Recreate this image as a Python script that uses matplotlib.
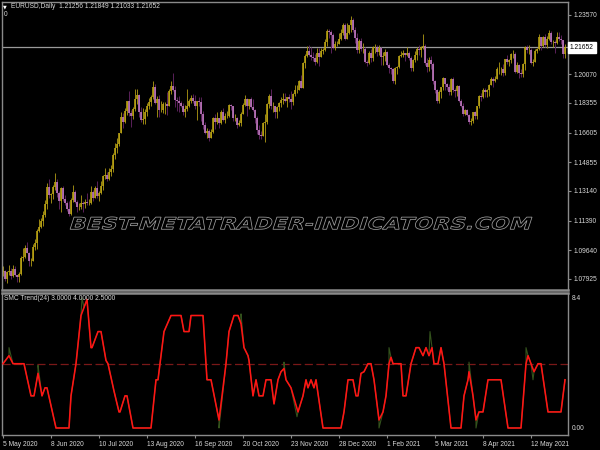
import numpy as np
import pandas as pd
import matplotlib
matplotlib.use("Agg")
import matplotlib.pyplot as plt
from matplotlib.transforms import Affine2D, blended_transform_factory
from matplotlib.textpath import TextPath
from matplotlib.patches import PathPatch
from matplotlib.font_manager import FontProperties

# ---------------- data ----------------
SYMBOL = "EURUSD,Daily"
FIRST_OPEN = 1.0835
HOLIDAYS = ["2020-12-25", "2021-01-01"]

CLOSE = [
 1.0838,1.0795,1.0833,1.0840,
 1.0808,1.0850,1.0817,1.0806,1.0820,
 1.0915,1.0925,1.0975,1.0948,1.0900,
 1.0900,1.0980,1.1005,1.1076,1.1100,
 1.1135,1.1170,1.1235,1.1336,1.1290,
 1.1295,1.1340,1.1370,1.1300,1.1255,
 1.1330,1.1265,1.1245,1.1205,1.1175,
 1.1260,1.1310,1.1250,1.1220,1.1220,
 1.1245,1.1235,1.1250,1.1240,1.1245,
 1.1310,1.1275,1.1330,1.1285,1.1300,
 1.1345,1.1400,1.1410,1.1385,1.1428,
 1.1445,1.1525,1.1570,1.1595,1.1655,
 1.1755,1.1720,1.1790,1.1845,1.1775,
 1.1760,1.1800,1.1860,1.1880,1.1785,
 1.1735,1.1740,1.1785,1.1815,1.1840,
 1.1870,1.1930,1.1835,1.1860,1.1795,
 1.1795,1.1830,1.1830,1.1820,1.1905,
 1.1935,1.1910,1.1855,1.1850,1.1835,
 1.1815,1.1780,1.1800,1.1815,1.1845,
 1.1865,1.1845,1.1815,1.1850,1.1840,
 1.1770,1.1705,1.1660,1.1670,1.1630,
 1.1665,1.1745,1.1720,1.1745,1.1715,
 1.1785,1.1735,1.1760,1.1760,1.1825,
 1.1815,1.1745,1.1745,1.1705,1.1715,
 1.1770,1.1825,1.1860,1.1815,1.1860,
 1.1810,1.1795,1.1745,1.1675,1.1645,
 1.1640,1.1715,1.1720,1.1830,1.1875,
 1.1815,1.1815,1.1780,1.1810,1.1835,
 1.1855,1.1860,1.1850,1.1870,1.1860,
 1.1840,1.1890,1.1915,1.1915,1.1965,
 1.1925,1.2070,1.2115,1.2145,1.2120,
 1.2110,1.2105,1.2080,1.2130,1.2110,
 1.2145,1.2150,1.2195,1.2265,1.2255,
 1.2240,1.2160,1.2185,1.2185,
 1.2215,1.2250,1.2295,1.2215,
 1.2250,1.2295,1.2325,1.2270,1.2220,
 1.2150,1.2205,1.2155,1.2155,1.2080,
 1.2075,1.2130,1.2105,1.2165,1.2170,
 1.2140,1.2160,1.2110,1.2115,1.2135,
 1.2060,1.2040,1.2035,1.1965,1.2045,
 1.2050,1.2115,1.2120,1.2130,1.2120,
 1.2130,1.2105,1.2040,1.2090,1.2120,
 1.2155,1.2150,1.2165,1.2175,1.2075,
 1.2050,1.2090,1.2065,1.1965,1.1915,
 1.1845,1.1900,1.1930,1.1985,1.1950,
 1.1930,1.1900,1.1975,1.1915,1.1905,
 1.1935,1.1850,1.1815,1.1770,1.1795,
 1.1765,1.1720,1.1730,1.1780,1.1760,
 1.1815,1.1875,1.1870,1.1915,1.1900,
 1.1910,1.1945,1.1975,1.1965,1.1980,
 1.2035,1.2035,1.2035,1.2015,1.2095,
 1.2080,1.2090,1.2125,1.2125,1.2020,
 1.2060,1.2015,1.2005,1.2065,1.2165,
 1.2150,1.2150,1.2075,1.2080,1.2145,
 1.2155,1.2225,1.2175,1.2225,1.2180,
 1.2215,1.2250,1.2195,1.2195,1.2190,
 1.2225,1.2215,1.2210,1.21256,1.21652]

HIGH = [
 1.0870,1.0845,1.0840,1.0877,
 1.0855,1.0876,1.0872,1.0815,1.0835,
 1.0926,1.0976,1.0995,1.1009,1.0950,
 1.0919,1.0997,1.1030,1.1090,1.1146,
 1.1153,1.1197,1.1258,1.1361,1.1384,
 1.1304,1.1349,1.1422,1.1386,1.1314,
 1.1336,1.1346,1.1290,1.1257,1.1256,
 1.1272,1.1349,1.1320,1.1263,1.1245,
 1.1288,1.1255,1.1268,1.1303,1.1268,
 1.1346,1.1320,1.1345,1.1371,1.1316,
 1.1375,1.1410,1.1452,1.1427,1.1450,
 1.1468,1.1540,1.1601,1.1627,1.1660,
 1.1781,1.1776,1.1805,1.1848,1.1908,
 1.1796,1.1811,1.1916,1.1916,1.1887,
 1.1810,1.1806,1.1800,1.1835,1.1865,
 1.1882,1.1966,1.1949,1.1877,1.1883,
 1.1850,1.1844,1.1844,1.1900,1.1920,
 1.1966,1.2011,1.1937,1.1873,1.1877,
 1.1846,1.1838,1.1826,1.1917,1.1860,
 1.1882,1.1887,1.1882,1.1850,1.1872,
 1.1872,1.1787,1.1721,1.1687,1.1680,
 1.1681,1.1750,1.1768,1.1780,1.1748,
 1.1793,1.1805,1.1777,1.1786,1.1831,
 1.1828,1.1817,1.1769,1.1750,1.1737,
 1.1784,1.1838,1.1880,1.1868,1.1860,
 1.1870,1.1860,1.1798,1.1761,1.1706,
 1.1669,1.1721,1.1769,1.1838,1.1891,
 1.1920,1.1840,1.1820,1.1815,1.1840,
 1.1870,1.1893,1.1892,1.1870,1.1890,
 1.1905,1.1895,1.1942,1.1940,1.1970,
 1.2004,1.2077,1.2124,1.2176,1.2178,
 1.2167,1.2140,1.2128,1.2162,1.2160,
 1.2163,1.2160,1.2212,1.2273,1.2272,
 1.2267,1.2250,1.2201,1.2205,
 1.2251,1.2276,1.2310,1.2310,
 1.2310,1.2300,1.2349,1.2340,1.2288,
 1.2251,1.2217,1.2223,1.2190,1.2168,
 1.2091,1.2144,1.2153,1.2172,1.2185,
 1.2180,1.2177,1.2165,1.2137,1.2156,
 1.2145,1.2075,1.2050,1.2040,1.2051,
 1.2055,1.2121,1.2145,1.2150,1.2132,
 1.2169,1.2143,1.2115,1.2094,1.2143,
 1.2169,1.2180,1.2175,1.2243,1.2184,
 1.2105,1.2108,1.2113,1.2076,1.1973,
 1.1918,1.1910,1.1929,1.1990,1.1975,
 1.1955,1.1951,1.1985,1.1990,1.1925,
 1.1942,1.1945,1.1860,1.1837,1.1800,
 1.1797,1.1772,1.1747,1.1785,1.1790,
 1.1820,1.1881,1.1893,1.1927,1.1925,
 1.1920,1.1950,1.1990,1.1989,1.1994,
 1.2048,1.2080,1.2048,1.2069,1.2099,
 1.2117,1.2098,1.2130,1.2150,1.2138,
 1.2076,1.2068,1.2035,1.2070,1.2172,
 1.2182,1.2182,1.2161,1.2097,1.2153,
 1.2164,1.2245,1.2228,1.2230,1.2243,
 1.2230,1.2266,1.2262,1.2210,1.2210,
 1.2254,1.2254,1.2237,1.2198,1.21849]

LOW = [
 1.0812,1.0782,1.0766,1.0817,
 1.0795,1.0805,1.0808,1.0775,1.0773,
 1.0816,1.0900,1.0915,1.0945,1.0871,
 1.0871,1.0897,1.0962,1.0970,1.1071,
 1.1095,1.1109,1.1160,1.1209,1.1273,
 1.1242,1.1266,1.1317,1.1280,1.1206,
 1.1188,1.1253,1.1233,1.1198,1.1168,
 1.1172,1.1250,1.1240,1.1188,1.1200,
 1.1210,1.1191,1.1215,1.1231,1.1229,
 1.1239,1.1253,1.1271,1.1275,1.1254,
 1.1295,1.1317,1.1386,1.1371,1.1380,
 1.1403,1.1424,1.1506,1.1540,1.1580,
 1.1655,1.1690,1.1717,1.1762,1.1757,
 1.1696,1.1739,1.1791,1.1829,1.1754,
 1.1720,1.1711,1.1710,1.1761,1.1797,
 1.1815,1.1860,1.1828,1.1754,1.1753,
 1.1780,1.1775,1.1770,1.1763,1.1818,
 1.1890,1.1905,1.1812,1.1789,1.1780,
 1.1810,1.1765,1.1753,1.1790,1.1811,
 1.1836,1.1835,1.1802,1.1737,1.1817,
 1.1728,1.1683,1.1651,1.1627,1.1612,
 1.1630,1.1660,1.1683,1.1710,1.1688,
 1.1709,1.1730,1.1717,1.1747,1.1752,
 1.1795,1.1731,1.1728,1.1688,1.1702,
 1.1702,1.1768,1.1816,1.1759,1.1798,
 1.1803,1.1790,1.1718,1.1650,1.1622,
 1.1622,1.1641,1.1603,1.1711,1.1807,
 1.1800,1.1782,1.1745,1.1745,1.1790,
 1.1810,1.1830,1.1840,1.1812,1.1840,
 1.1800,1.1825,1.1875,1.1895,1.1910,
 1.1923,1.1925,1.2040,1.2110,1.2115,
 1.2090,1.2086,1.2059,1.2073,1.2055,
 1.2125,1.2125,1.2141,1.2176,1.2222,
 1.2130,1.2155,1.2152,1.2175,
 1.2194,1.2210,1.2240,1.2210,
 1.2220,1.2246,1.2255,1.2255,1.2191,
 1.2132,1.2131,1.2145,1.2133,1.2073,
 1.2054,1.2068,1.2080,1.2086,1.2129,
 1.2116,1.2120,1.2058,1.2059,1.2082,
 1.2055,1.2011,1.2007,1.1953,1.1951,
 1.2010,1.2042,1.2110,1.2111,1.2083,
 1.2113,1.2090,1.2023,1.2023,1.2081,
 1.2090,1.2120,1.2110,1.2158,1.2062,
 1.2022,1.2025,1.2039,1.1950,1.1893,
 1.1836,1.1835,1.1865,1.1913,1.1912,
 1.1910,1.1885,1.1880,1.1900,1.1873,
 1.1874,1.1844,1.1809,1.1760,1.1762,
 1.1761,1.1711,1.1704,1.1718,1.1742,
 1.1740,1.1804,1.1845,1.1867,1.1869,
 1.1870,1.1876,1.1940,1.1933,1.1958,
 1.1977,1.2010,1.2004,1.1995,1.2000,
 1.2067,1.2057,1.2072,1.2100,1.2015,
 1.2016,1.1985,1.1988,1.1990,1.2030,
 1.2130,1.2125,1.2068,1.2052,1.2077,
 1.2133,1.2150,1.2152,1.2170,1.2165,
 1.2161,1.2210,1.2187,1.2170,1.2133,
 1.2186,1.2205,1.2186,1.2104,1.21033]

PRICE_TICKS = [1.23570, 1.20070, 1.18355, 1.16605, 1.14855,
               1.13140, 1.11390, 1.09640, 1.07925]
PRICE_TICK_LABELS = ["1.23570", "1.20070", "1.18355", "1.16605", "1.14855",
                     "1.13140", "1.11390", "1.09640", "1.07925"]

XTICK_DATES = ["2020-05-05", "2020-06-08", "2020-07-10", "2020-08-13",
               "2020-09-16", "2020-10-20", "2020-11-23", "2020-12-28",
               "2021-02-01", "2021-03-05", "2021-04-08", "2021-05-12"]
XTICK_LABELS = ["5 May 2020", "8 Jun 2020", "10 Jul 2020", "13 Aug 2020",
                "16 Sep 2020", "20 Oct 2020", "23 Nov 2020", "28 Dec 2020",
                "1 Feb 2021", "5 Mar 2021", "8 Apr 2021", "12 May 2021"]

# SMC Trend indicator (bar index, value) vertices of the red line
SMC_X = [0,3,5,10.5,14,15.5,17.5,19.5,21,22,26.5,33,34,36.5,39,40.5,42,44,44.5,
         47.5,49,51.5,52.5,55.5,58,58.5,61,62,65,74,76.5,77.5,80.5,84,89,90.5,
         93,94,100,102,104,108,111.5,113,115.5,117.5,119,120.5,122.5,123,125,
         126.5,128,130,131.5,134,135.5,137.5,139,140.5,141.5,144,147.5,150,
         151.5,152.5,154,155.5,156.5,160,169,170.5,172.5,175,176.5,177.5,179,
         180.5,182.5,184,185.5,188,190,191.5,193,194,195,199,200,201.5,204,
         206.5,208,210,211.5,213,214.5,215.5,217.5,219,220.5,224,229,230.5,
         232.5,233,235,236.5,238,240,242.5,249,252.5,259,261.5,262.5,264,
         265.5,267.5,269,272.5,279,281]
SMC_V = [4,4.5,4,4,2,2,3.4,2,2.5,2.5,0,0,2,4,7,7.5,8,5,5,
         6,6,4.2,4,2.3,1,1,2,2,0,0,3,3,6,7,7,6,
         6,7,7,3,3,0.5,4,6,7,7,6.5,5,4.5,4.2,2,
         3,2,2,3,3,1.5,3,3.5,3.7,3,2.5,1,2,
         3,2.5,3,2.5,3,0,0,1,3,3,2,2,3.4,
         3.5,4,4,3,0.5,1,2,4,4.4,4,4,2,2,4,
         5,5,4.5,5,4.5,5,4,4,5,4,0,0,2,
         3,3.5,2,0.5,1,1,3,3,0,0,4,4.5,4,
         3.5,4,4,1,1,3]
# raw (green) line spikes away from the smoothed line
SPIKE_X = [3, 17.5, 39.5, 108, 119, 140.5, 147, 188, 193, 213.5, 233, 236.5, 261.5, 265]
SPIKE_V = [5, 3.9, 8.1, 0, 7.1, 4.1, 0.7, 0, 5, 6.0, 4.1, 0, 5, 3]
SMC_LEVEL = 4.0
SMC_TITLE = "SMC Trend(24) 3.0000 4.0000 2.5000"

WATERMARK = "BEST-METATRADER-INDICATORS.COM"

# ---------------- prep ----------------
dates = pd.bdate_range("2020-05-05", "2021-06-04")
dates = dates[~dates.isin(pd.to_datetime(HOLIDAYS))]
C = np.array(CLOSE)
H = np.array(HIGH)
L = np.array(LOW)
assert len(dates) == len(C) == len(H) == len(L)
O = np.concatenate([[FIRST_OPEN], C[:-1]])
H = np.maximum(H, np.maximum(O, C))
L = np.minimum(L, np.minimum(O, C))
N = len(C)
x = np.arange(N)
xt = [int(dates.get_loc(pd.Timestamp(d))) for d in XTICK_DATES]

BG = "black"
GRID = "#8a8a8a"
TXT = "#d8d8d8"
FONT = ["Liberation Sans", "DejaVu Sans"]
FS = 4.8

fig = plt.figure(figsize=(6, 4.5), dpi=100, facecolor=BG)
ax = fig.add_axes([2/600, 1-290/450, 566/600, 288/450], facecolor=BG)
ax2 = fig.add_axes([2/600, 15/450, 566/600, 142/450], facecolor=BG)

for a in (ax, ax2):
    for s in a.spines.values():
        s.set_color(GRID)
        s.set_linewidth(1.0)
    a.set_xlim(-0.5, N + 0.5)
ax.spines["bottom"].set_linewidth(1.8)
ax2.spines["top"].set_linewidth(1.8)

# candles
up = C >= O
bull, bull_w = "#bca514", "#9a8712"
bear, bear_w = "#c97fc9", "#5a205a"
ax.vlines(x[up], L[up], H[up], color=bull_w, lw=0.7)
ax.vlines(x[~up], L[~up], H[~up], color=bear_w, lw=0.7)
ax.vlines(x[up], O[up], C[up], color=bull, lw=1.15)
ax.vlines(x[~up], C[~up], O[~up], color=bear, lw=1.15)
ax.axhline(C[-1], color="#9a9a9a", lw=0.9, zorder=1)

ax.set_ylim(1.07273, 1.24340)
ax.set_xticks([])
ax.yaxis.tick_right()
ax.set_yticks(PRICE_TICKS)
ax.set_yticklabels(PRICE_TICK_LABELS)
ax.tick_params(axis="y", length=2.5, color=GRID, labelsize=FS, labelcolor=TXT, pad=1.5)
for t in ax.get_yticklabels():
    t.set_family(FONT)

ax.text(1 + 2/566, C[-1], f"{C[-1]:.5f}",
        transform=blended_transform_factory(ax.transAxes, ax.transData),
        ha="left", va="center", fontsize=FS, color="black", family=FONT,
        bbox=dict(boxstyle="square,pad=0.3", fc="white", ec="white"), clip_on=False)

# header texts
fig.text(3/600, 1-7/450, "\u25bc", fontsize=3.5, color="white", va="center", family=["DejaVu Sans"])
fig.text(11/600, 1-7/450,
         f"{SYMBOL}  {O[-1]:.5f} {H[-1]:.5f} {L[-1]:.5f} {C[-1]:.5f}",
         fontsize=FS, color=TXT, va="center", family=FONT)
fig.text(4/600, 1-15/450, "0", fontsize=FS, color=TXT, va="center", family=FONT)

# watermark (outlined, slanted, stretched)
tp = TextPath((0, 0), WATERMARK, size=1, prop=FontProperties(family="DejaVu Sans", weight="bold"))
ext = tp.get_extents()
sx = 458 / ext.width
sy = 12.6 / ext.height
tr = (Affine2D().translate(-ext.x0, -ext.y0).scale(sx, sy)
      .skew_deg(18, 0).translate(70, 450 - 229.5))
wm = PathPatch(tp, transform=tr, facecolor="black", edgecolor="#a0a0a0", lw=0.55, zorder=10)
fig.add_artist(wm)

# indicator
order = np.argsort(np.concatenate([SMC_X, SPIKE_X]), kind="stable")
gx = np.concatenate([SMC_X, SPIKE_X])[order]
gv = np.concatenate([SMC_V, SPIKE_V])[order]
ax2.plot(gx, gv, color="#33521c", lw=0.8, zorder=2)
ax2.plot(SMC_X, SMC_V, color="#ff1414", lw=1.15, zorder=3)
ax2.axhline(SMC_LEVEL, color="#7a1818", lw=0.9, ls=(0, (6.5, 2.8)), zorder=1)
ax2.set_ylim(-0.436, 8.4)
ax2.set_yticks([])
ax2.set_xticks(xt)
ax2.set_xticklabels(XTICK_LABELS)
ax2.tick_params(axis="x", direction="out", length=2.5, color=GRID,
                labelsize=FS, labelcolor=TXT, pad=2)
for t in ax2.get_xticklabels():
    t.set_ha("left")
    t.set_family(FONT)

fig.text(572/600, 1-298/450, "8.4", fontsize=FS, color=TXT, va="center", family=FONT)
fig.text(572/600, 1-428/450, "0.00", fontsize=FS, color=TXT, va="center", family=FONT)
fig.text(4/600, 1-298/450, SMC_TITLE, fontsize=FS, color=TXT, va="center", family=FONT)

fig.savefig("out.png", dpi=100, facecolor=BG)
